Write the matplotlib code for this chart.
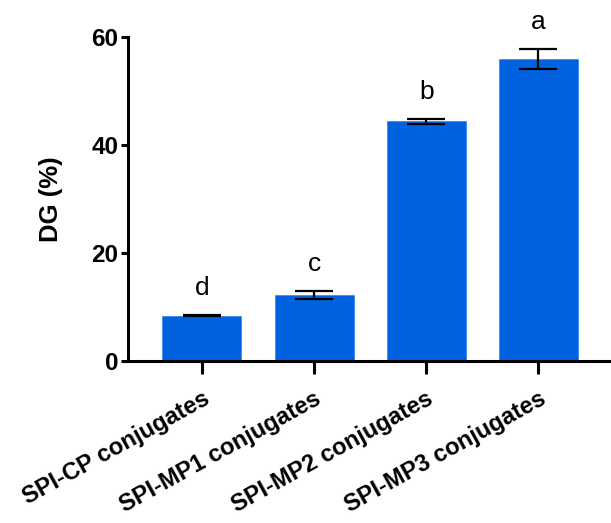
import matplotlib.pyplot as plt
import numpy as np

plt.rcParams['font.family'] = ['Liberation Sans', 'DejaVu Sans']

groups = ["SPI-CP conjugates", "SPI-MP1 conjugates", "SPI-MP2 conjugates", "SPI-MP3 conjugates"]
dg = [8.4, 12.3, 44.4, 55.9]
dg_err = [0.12, 0.75, 0.45, 1.85]
letters = ["d", "c", "b", "a"]

bar_color = "#0062DE"


def main():
    fig = plt.figure(figsize=(6.11, 5.23), dpi=100)
    ax = fig.add_axes([128 / 611, 1 - 361 / 523, 482 / 611, 324 / 523])

    x = np.arange(len(groups))
    ax.bar(x, dg, width=0.705, color=bar_color, edgecolor="#3d8cf0", linewidth=0.6, zorder=2)
    ax.errorbar(x, dg, yerr=dg_err, fmt="none", ecolor="black", elinewidth=1.6,
                capsize=14, capthick=1.6, zorder=3)

    for xi, v, e, lab in zip(x, dg, dg_err, letters):
        ax.text(xi, v + e + 5.0, lab, ha="center", va="center", fontsize=19, clip_on=False)

    ax.set_xlim(-0.66, 3.64)
    ax.set_ylim(0, 60)
    ax.set_yticks([0, 20, 40, 60])
    ax.set_xticks(x)
    ax.set_xticklabels(groups, rotation=29, ha="right", rotation_mode="anchor",
                       fontsize=17, fontweight="bold")
    for t in ax.get_yticklabels():
        t.set_fontsize(17.5)
        t.set_fontweight("bold")
    ax.set_ylabel("DG (%)", fontsize=18.5, fontweight="bold", labelpad=20)

    for s in ["top", "right"]:
        ax.spines[s].set_visible(False)
    for s in ["left", "bottom"]:
        ax.spines[s].set_linewidth(2.2)
    ax.tick_params(axis="y", length=5, width=2.2, pad=2)
    ax.tick_params(axis="x", length=9, width=2.2, pad=10)

    fig.savefig("out.png", dpi=100)


if __name__ == "__main__":
    main()
